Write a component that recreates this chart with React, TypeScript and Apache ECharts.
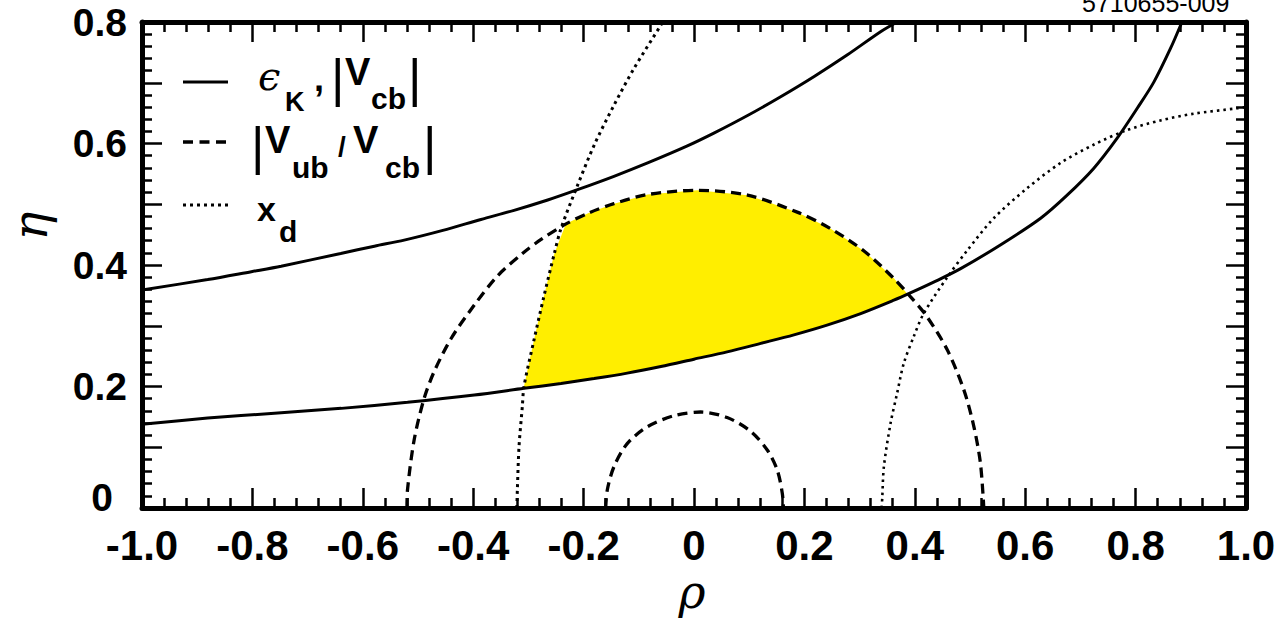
import React, { useEffect, useRef } from "react";
import * as echarts from "echarts";

// ---- tick labels ----
const xTickLabels = ["-1.0", "-0.8", "-0.6", "-0.4", "-0.2", "0", "0.2", "0.4", "0.6", "0.8", "1.0"];
const yTickLabels = ["0", "0.2", "0.4", "0.6", "0.8"];

// ---- epsilon_K, |Vcb| (solid) ----
const rhoUpperSolid = [-1.0, -0.881, -0.802, -0.748, -0.64, -0.579, -0.525, -0.455, -0.386, -0.326, -0.265, -0.211, -0.145, -0.084, -0.012, 0.036, 0.097, 0.157, 0.217, 0.278, 0.338, 0.368];
const etaUpperSolid = [0.359, 0.376, 0.389, 0.398, 0.419, 0.431, 0.441, 0.457, 0.475, 0.49, 0.507, 0.524, 0.546, 0.568, 0.596, 0.617, 0.646, 0.677, 0.71, 0.746, 0.784, 0.8];

const rhoLowerSolid = [-1.0, -0.881, -0.76, -0.639, -0.519, -0.398, -0.308, -0.241, -0.181, -0.121, -0.06, 0.0, 0.06, 0.121, 0.181, 0.241, 0.302, 0.362, 0.392, 0.437, 0.483, 0.555, 0.628, 0.676, 0.724, 0.766, 0.803, 0.833, 0.863, 0.884];
const etaLowerSolid = [0.138, 0.148, 0.156, 0.164, 0.174, 0.186, 0.197, 0.205, 0.213, 0.222, 0.233, 0.245, 0.257, 0.271, 0.285, 0.301, 0.32, 0.342, 0.354, 0.373, 0.394, 0.433, 0.477, 0.515, 0.559, 0.608, 0.658, 0.701, 0.756, 0.8];

// ---- |Vub/Vcb| (dashed) ----
const rhoOuterDashed = [-0.52, -0.519, -0.507, -0.489, -0.471, -0.44, -0.398, -0.356, -0.308, -0.277, -0.235, -0.19, -0.145, -0.084, 0.006, 0.097, 0.187, 0.247, 0.308, 0.362, 0.392, 0.422, 0.459, 0.489, 0.507, 0.519, 0.525];
const etaOuterDashed = [0.0, 0.03, 0.112, 0.18, 0.224, 0.279, 0.334, 0.382, 0.421, 0.442, 0.466, 0.486, 0.501, 0.516, 0.523, 0.515, 0.487, 0.46, 0.423, 0.378, 0.348, 0.315, 0.26, 0.194, 0.134, 0.073, 0.0];

const rhoInnerDashed = [-0.16, -0.157, -0.145, -0.121, -0.084, -0.036, 0.012, 0.06, 0.103, 0.133, 0.151, 0.16, 0.162];
const etaInnerDashed = [0.0, 0.03, 0.068, 0.106, 0.134, 0.152, 0.158, 0.149, 0.126, 0.095, 0.062, 0.024, 0.0];

// ---- x_d (dotted) ----
const rhoLeftDotted = [-0.321, -0.32, -0.317, -0.311, -0.308, -0.29, -0.272, -0.253, -0.241, -0.211, -0.181, -0.145, -0.109, -0.06, -0.057];
const etaLeftDotted = [0.0, 0.03, 0.101, 0.167, 0.2, 0.276, 0.348, 0.419, 0.46, 0.531, 0.597, 0.663, 0.723, 0.795, 0.8];

const rhoRightDotted = [0.34, 0.341, 0.344, 0.356, 0.368, 0.38, 0.398, 0.416, 0.459, 0.495, 0.543, 0.603, 0.664, 0.724, 0.784, 0.845, 0.905, 0.984, 1.0];
const etaRightDotted = [0.0, 0.016, 0.068, 0.139, 0.189, 0.238, 0.282, 0.32, 0.38, 0.424, 0.477, 0.526, 0.568, 0.598, 0.622, 0.638, 0.649, 0.658, 0.66];

// ---- allowed region (yellow) boundary ----
const rhoRegion = [-0.308, -0.29, -0.272, -0.253, -0.232, -0.19, -0.145, -0.084, 0.006, 0.097, 0.187, 0.247, 0.308, 0.362, 0.386, 0.362, 0.302, 0.241, 0.181, 0.121, 0.06, 0.0, -0.06, -0.121, -0.181, -0.241, -0.308];
const etaRegion = [0.2, 0.276, 0.348, 0.419, 0.468, 0.486, 0.501, 0.516, 0.523, 0.515, 0.487, 0.46, 0.423, 0.378, 0.353, 0.342, 0.32, 0.301, 0.285, 0.271, 0.257, 0.245, 0.233, 0.222, 0.213, 0.205, 0.197];

const zip = (a: number[], b: number[]) => a.map((v, i) => [v, b[i]]);

const SANS = "'Liberation Sans', Arial, Helvetica, sans-serif";
const SERIF = "'DejaVu Serif', 'Liberation Serif', serif";

export default function App() {
  const ref = useRef<HTMLDivElement>(null);

  useEffect(() => {
    if (!ref.current) return;
    const chart = echarts.init(ref.current, undefined, { renderer: "svg" });

    const tickStyle = { color: "#000", width: 2.5 };
    const xCommon = {
      type: "value",
      min: -1,
      max: 1,
      interval: 0.2,
      axisLine: { show: true, onZero: false, lineStyle: { color: "#000", width: 5 } },
      axisTick: { show: true, inside: true, length: 20, lineStyle: tickStyle },
      minorTick: { show: true, splitNumber: 5, length: 10, lineStyle: tickStyle },
      splitLine: { show: false },
      minorSplitLine: { show: false },
    };
    const yCommon = {
      type: "value",
      min: 0,
      max: 0.8,
      interval: 0.1,
      axisLine: { show: true, onZero: false, lineStyle: { color: "#000", width: 5 } },
      axisTick: { show: true, inside: true, length: 20, lineStyle: tickStyle },
      minorTick: { show: true, splitNumber: 5, length: 10, lineStyle: tickStyle },
      splitLine: { show: false },
      minorSplitLine: { show: false },
    };

    const yLabelFont = { color: "#000", fontSize: 39, fontWeight: "bold", fontFamily: SANS };
    const xLabelFont = { color: "#000", fontSize: 42, fontWeight: "bold", fontFamily: SANS };

    const lineSeries = (rho: number[], eta: number[], type: any, width: number) => ({
      type: "line",
      data: zip(rho, eta),
      showSymbol: false,
      symbol: "none",
      smooth: 0.3,
      z: 3,
      silent: true,
      lineStyle: { color: "#000", width, type, cap: "butt" },
    });

    const legendText = (text: string, x: number, y: number, size: number, extra: any = {}) => ({
      type: "text",
      x,
      y,
      silent: true,
      style: {
        text,
        fill: "#000",
        fontSize: size,
        fontWeight: "bold",
        fontFamily: SANS,
        align: "left",
        verticalAlign: "middle",
        ...extra,
      },
    });

    const option: any = {
      animation: false,
      backgroundColor: "#fff",
      grid: { left: 142, right: 37, top: 22, bottom: 112 },
      xAxis: [
        {
          ...xCommon,
          position: "bottom",
          axisLabel: {
            ...xLabelFont,
            margin: 16,
            formatter: (v: number) => xTickLabels[Math.round((v + 1) / 0.2)] ?? "",
          },
        },
        { ...xCommon, position: "top", axisLabel: { show: false } },
      ],
      yAxis: [
        {
          ...yCommon,
          position: "left",
          axisLabel: {
            ...yLabelFont,
            margin: 15,
            formatter: (v: number) => {
              const k = Math.round(v * 10);
              if (k % 2 !== 0) return "";
              const s = yTickLabels[k / 2];
              return k === 0 ? "{z|" + s + "}" : s;
            },
            rich: { z: { ...yLabelFont, padding: [0, 14, 22, 0] } },
          },
        },
        { ...yCommon, position: "right", axisLabel: { show: false } },
      ],
      series: [
        {
          type: "custom",
          silent: true,
          z: 1,
          clip: true,
          data: [[0, 0]],
          renderItem: (_p: any, api: any) => ({
            type: "polygon",
            shape: { points: rhoRegion.map((r, i) => api.coord([r, etaRegion[i]])) },
            style: { fill: "#ffee00", stroke: "none" },
          }),
        },
        lineSeries(rhoUpperSolid, etaUpperSolid, "solid", 3),
        lineSeries(rhoLowerSolid, etaLowerSolid, "solid", 3),
        lineSeries(rhoOuterDashed, etaOuterDashed, [10, 6], 3.3),
        lineSeries(rhoInnerDashed, etaInnerDashed, [10, 6], 3.3),
        lineSeries(rhoLeftDotted, etaLeftDotted, [3, 4], 3),
        lineSeries(rhoRightDotted, etaRightDotted, [2.5, 4], 2.6),
      ],
      graphic: [
        // legend samples
        { type: "line", silent: true, shape: { x1: 183, y1: 82, x2: 228, y2: 82 }, style: { stroke: "#000", lineWidth: 3 } },
        { type: "line", silent: true, shape: { x1: 183, y1: 142, x2: 228, y2: 142 }, style: { stroke: "#000", lineWidth: 3.3, lineDash: [10, 6.5] } },
        { type: "line", silent: true, shape: { x1: 183, y1: 205, x2: 228, y2: 205 }, style: { stroke: "#000", lineWidth: 3, lineDash: [3, 4] } },
        // row 1: eps_K, |V_cb|
        legendText("ϵ", 258, 76, 40, { fontWeight: "normal", fontStyle: "italic", fontFamily: SERIF }),
        legendText("K", 285, 102, 27),
        legendText(",", 314, 78, 36),
        legendText("|", 331, 78, 52, { fontWeight: "normal" }),
        legendText("V", 345, 71.5, 38),
        legendText("cb", 371, 98, 30),
        legendText("|", 408, 78, 52, { fontWeight: "normal" }),
        // row 2: |V_ub / V_cb|
        legendText("|", 251, 146, 52, { fontWeight: "normal" }),
        legendText("V", 265, 140, 38),
        legendText("ub", 292, 167, 30),
        legendText("/", 338, 146, 28),
        legendText("V", 353, 140, 38),
        legendText("cb", 385, 167, 30),
        legendText("|", 423, 146, 52, { fontWeight: "normal" }),
        // row 3: x_d
        legendText("x", 257, 209, 34),
        legendText("d", 279, 231, 30),
        // axis titles
        {
          type: "text",
          x: 30,
          y: 226,
          rotation: Math.PI / 2,
          silent: true,
          style: { text: "η", fill: "#000", fontSize: 48, fontStyle: "italic", fontFamily: SERIF, align: "center", verticalAlign: "middle" },
        },
        {
          type: "text",
          x: 692,
          y: 592,
          silent: true,
          style: { text: "ρ", fill: "#000", fontSize: 46, fontStyle: "italic", fontFamily: SERIF, align: "center", verticalAlign: "middle" },
        },
        // figure id (cut off at top, as in the original)
        {
          type: "text",
          x: 1082,
          y: 3,
          silent: true,
          style: { text: "5710655-009", fill: "#000", fontSize: 25, fontFamily: SANS, align: "left", verticalAlign: "middle" },
        },
      ],
    };

    chart.setOption(option);
    return () => chart.dispose();
  }, []);

  return (
    <div
      ref={ref}
      style={{ position: "fixed", left: 0, top: 0, width: 1283, height: 620, background: "#fff" }}
    />
  );
}
